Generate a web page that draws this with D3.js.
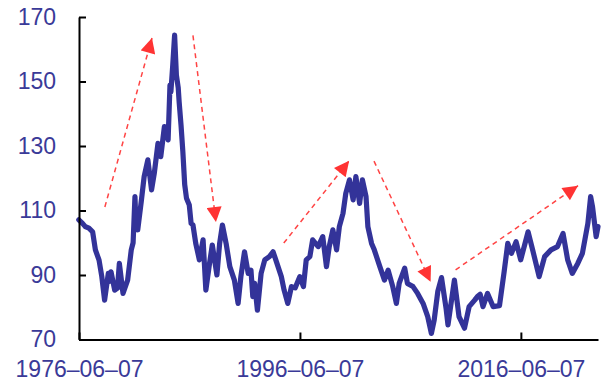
<!DOCTYPE html>
<html>
<head>
<meta charset="utf-8">
<script src="https://cdn.jsdelivr.net/npm/d3@7"></script>
<style>
  html, body { margin: 0; padding: 0; background: #ffffff; }
  svg { display: block; }
</style>
</head>
<body>
<svg id="chart" width="601" height="384"></svg>
<script>
// ---- data ----
const dates = [
  "1976-06","1976-10","1977-01","1977-05","1977-09","1977-12","1978-04","1978-07","1978-10","1979-02",
  "1979-03","1979-05","1979-09","1979-12","1980-02","1980-06","1980-11","1981-03","1981-05","1981-07",
  "1981-08","1981-10","1982-02","1982-05","1982-09","1983-01","1983-04","1983-08","1983-11","1984-03",
  "1984-07","1984-09","1984-10","1984-12","1985-02","1985-04","1985-06","1985-07","1985-09","1985-11",
  "1986-01","1986-03","1986-06","1986-08","1986-10","1987-01","1987-05","1987-09","1987-12","1988-04",
  "1988-07","1988-12","1989-03","1989-06","1989-10","1990-02","1990-07","1990-11","1991-02","1991-06",
  "1991-10","1992-01","1992-03","1992-05","1992-08","1992-12","1993-04","1993-09","1994-01","1994-04",
  "1994-10","1995-01","1995-05","1995-09","1996-01","1996-06","1996-10","1997-01","1997-05","1997-08",
  "1998-02","1998-07","1998-11","1999-02","1999-06","1999-10","2000-01","2000-05","2000-08","2000-12",
  "2001-04","2001-07","2001-11","2002-02","2002-06","2002-08","2002-12","2003-03","2003-09","2004-02",
  "2004-06","2004-11","2005-03","2005-06","2005-12","2006-03","2006-09","2007-02","2007-08","2008-01",
  "2008-05","2008-08","2008-12","2009-04","2009-09","2009-11","2010-06","2010-11","2011-05","2011-10",
  "2012-04","2012-07","2012-10","2013-01","2013-06","2013-12","2014-07","2014-12","2015-04","2015-08",
  "2016-01","2016-06","2017-02","2017-07","2018-02","2018-08","2019-03","2019-10","2020-04","2020-09",
  "2021-02","2021-08","2022-01","2022-07","2022-10","2022-12","2023-04","2023-06"
];
const values = [
  107.1,106.0,105.0,104.5,103.4,97.8,94.6,89.5,82.2,90.5,
  88.0,91.0,85.3,85.9,93.6,84.3,88.4,97.8,100.0,114.3,
  106.0,104.0,113.3,120.5,125.7,116.4,121.5,130.8,126.7,136.0,
  131.9,148.9,146.8,155.0,164.4,152.0,148.0,143.7,136.5,128.2,
  118.0,113.8,111.7,106.0,105.5,99.8,94.7,100.9,85.3,93.6,
  99.3,90.0,99.8,105.5,99.8,92.6,88.4,81.2,89.5,97.2,
  90.5,91.5,83.3,87.4,79.1,90.5,94.7,95.7,97.2,94.7,
  89.5,85.3,81.2,86.4,86.0,89.5,86.4,94.7,95.7,100.9,
  98.8,101.9,92.6,98.8,104.0,97.8,105.0,109.1,115.3,119.5,
  113.3,120.5,112.2,119.5,114.3,105.0,99.8,97.8,92.6,88.4,
  91.5,86.4,81.2,87.4,92.1,87.4,86.4,84.3,81.2,77.1,
  71.9,76.0,85.0,89.2,79.5,74.5,88.4,77.1,73.5,80.2,
  82.2,83.3,84.0,80.2,84.3,80.2,80.5,91.0,99.8,96.7,
  100.3,94.7,103.4,97.8,89.5,95.7,97.8,98.8,102.9,94.7,
  90.5,93.6,96.7,106.0,114.3,111.2,101.9,105.0
];
const yTicks = [70, 90, 110, 130, 150, 170];
const xTickDates = ["1976-06-07", "1996-06-07", "2016-06-07"];
const xTickLabels = ["1976–06–07", "1996–06–07", "2016–06–07"];
// trend arrows: [startDate, startValue] -> [endDate, endValue]
const arrowStarts = [["1978-10-10", 111.1], ["1986-10-01", 164.3], ["1994-12-20", 99.9], ["2003-02-20", 125.3], ["2010-07-10", 91.6]];
const arrowEnds   = [["1983-01-15", 163.5], ["1988-10-30", 106.4], ["2000-11-20", 125.4], ["2008-04-05", 87.9], ["2021-08-10", 117.7]];

// ---- chart ----
const svg = d3.select("#chart");
const mLeft = 79, mRight = 598, mTop = 17, mBottom = 339.5;
const parseM = d3.timeParse("%Y-%m");
const parseD = d3.timeParse("%Y-%m-%d");
const x = d3.scaleTime()
  .domain([parseD("1976-06-07"), parseD("2023-06-01")])
  .range([mLeft, mRight]);
const y = d3.scaleLinear().domain([70, 170]).range([mBottom, mTop]);

const textColor = "#3a3a98";
const lineColor = "#333399";
const font = "'Liberation Sans', Arial, sans-serif";

const series = dates.map((d, i) => ({ date: parseM(d), value: values[i] }));

// line
svg.append("path")
  .datum(series)
  .attr("fill", "none")
  .attr("stroke", lineColor)
  .attr("stroke-width", 5.2)
  .attr("stroke-linejoin", "round")
  .attr("stroke-linecap", "round")
  .attr("d", d3.line().x(d => x(d.date)).y(d => y(d.value)));

// arrows
const defs = svg.append("defs");
defs.append("marker")
  .attr("id", "arrowhead")
  .attr("viewBox", "0 0 10 10")
  .attr("refX", 10).attr("refY", 5)
  .attr("markerUnits", "userSpaceOnUse")
  .attr("markerWidth", 16).attr("markerHeight", 15)
  .attr("orient", "auto")
  .append("path")
  .attr("d", "M0,0 L10,5 L0,10 Z")
  .attr("fill", "#ff3333");

arrowStarts.forEach((s, i) => {
  const e = arrowEnds[i];
  svg.append("line")
    .attr("x1", x(parseD(s[0]))).attr("y1", y(s[1]))
    .attr("x2", x(parseD(e[0]))).attr("y2", y(e[1]))
    .attr("stroke", "#ff4444")
    .attr("stroke-width", 1.5)
    .attr("stroke-dasharray", "5,4")
    .attr("marker-end", "url(#arrowhead)");
});

// y axis
const yAxis = svg.append("g")
  .attr("transform", `translate(${mLeft},0)`)
  .call(d3.axisLeft(y).tickValues(yTicks).tickSizeInner(-7).tickSizeOuter(0).tickPadding(23));
yAxis.select(".domain").attr("stroke", "#000").attr("stroke-width", 2);
yAxis.selectAll(".tick line").attr("stroke", "#000").attr("stroke-width", 2);
yAxis.selectAll(".tick text")
  .attr("fill", textColor).style("font-family", font).style("font-size", "23px");

// x axis
const xAxis = svg.append("g")
  .attr("transform", `translate(0,${mBottom})`)
  .call(d3.axisBottom(x)
    .tickValues(xTickDates.map(parseD))
    .tickFormat((d, i) => xTickLabels[i])
    .tickSizeInner(-7).tickSizeOuter(0).tickPadding(21));
xAxis.select(".domain").attr("stroke", "#000").attr("stroke-width", 2);
xAxis.selectAll(".tick line").attr("stroke", "#000").attr("stroke-width", 2);
xAxis.selectAll(".tick text")
  .attr("fill", textColor).style("font-family", font).style("font-size", "23px");
</script>
</body>
</html>
